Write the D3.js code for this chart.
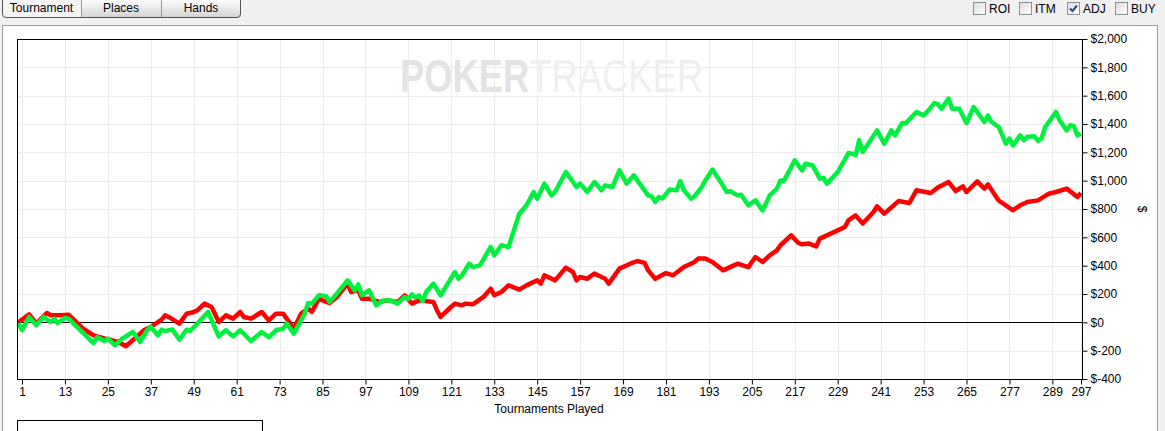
<!DOCTYPE html>
<html>
<head>
<meta charset="utf-8">
<script src="https://cdn.jsdelivr.net/npm/d3@7"></script>
<style>
  body { margin: 0; background: #f0f0f0; overflow: hidden; }
  text { font-family: "Liberation Sans", Arial, sans-serif; }
</style>
</head>
<body>
<script>
// tournaments played / profit ($)
var redTourney = [0,3,5,8,9,12,14,18,21,24,28,30,33,35,37,40,41,42,45,47,49,50,52,54,56,58,60,62,63,65,68,70,72,74,75,77,79,81,82,84,85,87,89,92,93,95,96,98,101,103,106,108,110,112,116,117,118,121,122,124,125,127,130,132,133,135,137,140,142,145,146,147,150,153,155,156,157,159,161,163,164,165,167,168,171,173,175,176,178,181,183,186,189,190,192,194,196,197,200,201,204,206,208,210,212,213,216,218,219,221,223,224,226,229,231,232,234,236,239,240,242,246,249,251,255,257,260,262,264,265,268,270,271,273,274,278,280,282,285,288,290,293,296,297];
var redProfit = [0,56,-7,66,50,50,54,-42,-92,-113,-139,-169,-104,-56,-33,19,49,38,-9,61,73,85,132,108,2,49,26,73,38,26,73,14,61,61,26,-45,61,97,73,167,155,136,179,273,214,226,167,167,143,155,143,191,132,155,143,85,38,110,132,120,132,127,179,238,191,214,261,231,261,296,273,332,296,386,355,296,320,308,344,320,308,273,344,379,414,433,420,367,308,348,332,390,426,450,450,426,386,367,402,414,390,461,426,473,508,544,614,560,551,556,536,591,614,649,673,720,755,697,779,819,767,856,842,932,913,951,990,927,960,920,995,944,974,896,860,791,826,849,861,908,920,944,885,913];

var greenTourney = [0,1,3,5,7,9,10,11,13,14,21,22,24,25,27,29,30,32,34,36,37,39,40,41,43,45,47,48,50,53,56,58,60,62,65,68,70,72,74,75,77,79,80,81,82,84,86,87,89,92,94,95,96,98,100,102,104,106,108,109,110,111,112,113,114,116,118,120,122,123,124,126,127,129,132,133,135,137,140,142,144,145,147,149,150,153,156,157,159,161,163,164,166,168,170,172,173,176,177,178,179,180,182,184,185,186,188,189,191,192,194,196,198,199,201,202,204,206,208,210,212,213,214,217,219,220,222,224,225,226,229,232,233,234,235,236,240,242,244,245,247,248,251,253,254,256,257,258,260,261,263,265,267,270,271,272,274,276,277,278,280,281,282,284,285,286,287,290,291,293,294,295,296,297];
var greenProfit = [-7,-56,38,-21,38,2,26,-5,31,26,-146,-104,-132,-115,-162,-115,-99,-68,-139,-56,-33,-92,-52,-62,-50,-122,-52,-61,-9,73,-99,-56,-99,-56,-132,-68,-104,-56,-45,-9,-80,14,61,136,132,191,184,143,203,296,226,268,191,226,120,155,155,132,179,165,198,175,190,150,214,273,191,273,355,308,332,414,390,402,532,473,544,532,767,826,920,873,979,896,920,1061,955,979,920,990,932,967,955,1073,979,1038,1002,896,889,849,884,875,937,932,997,932,873,890,955,1002,1078,1002,920,925,896,900,826,861,790,896,944,1002,1000,1144,1073,1120,1108,1014,1020,979,1061,1195,1190,1179,1285,1202,1355,1261,1355,1320,1407,1405,1485,1461,1485,1548,1540,1508,1579,1508,1508,1407,1520,1414,1460,1414,1379,1261,1297,1249,1320,1285,1310,1313,1280,1300,1379,1485,1426,1355,1391,1385,1320,1332];

var xTicks = d3.range(1, 290, 12).concat([297]);
var yTicks = d3.range(-400, 2001, 200);
var tabNames = ["Tournament", "Places", "Hands"];
var checkNames = ["ROI", "ITM", "ADJ", "BUY"];
var checkOn = [false, false, true, false];

var w = 1165, h = 431;
var plotL = 17, plotR = 1083, plotT = 39, plotB = 379;

var svg = d3.select("body").append("svg")
    .attr("width", w)
    .attr("height", h);

var defs = svg.append("defs");
var tabGrad = defs.append("linearGradient").attr("id", "tab-grad")
    .attr("x1", 0).attr("y1", 0).attr("x2", 0).attr("y2", 1);
tabGrad.append("stop").attr("offset", "0%").attr("stop-color", "#fdfdfd");
tabGrad.append("stop").attr("offset", "100%").attr("stop-color", "#d4d4d4");
var boxGrad = defs.append("linearGradient").attr("id", "box-grad")
    .attr("x1", 0).attr("y1", 0).attr("x2", 1).attr("y2", 1);
boxGrad.append("stop").attr("offset", "0%").attr("stop-color", "#dcdcdc");
boxGrad.append("stop").attr("offset", "100%").attr("stop-color", "#ffffff");

// white panel
svg.append("rect")
    .attr("x", 2.5).attr("y", 25.5)
    .attr("width", 1155).attr("height", 420)
    .attr("fill", "#fff")
    .attr("stroke", "#a0a0a0");

// tabs
var tabX = [2, 81, 161, 241];
var tabs = svg.append("g");
tabNames.forEach(function(name, i) {
    tabs.append("rect")
        .attr("x", tabX[i]).attr("y", 0)
        .attr("width", tabX[i + 1] - tabX[i]).attr("height", 17)
        .attr("fill", i == 0 ? "#f5f5f5" : "url(#tab-grad)");
    tabs.append("text")
        .attr("x", (tabX[i] + tabX[i + 1]) / 2)
        .attr("y", 12)
        .attr("text-anchor", "middle")
        .attr("font-size", 12)
        .attr("fill", "#000")
        .text(name);
});
tabs.append("path")
    .attr("d", "M2.5,0 V14 Q2.5,17.5 6,17.5 H237 Q240.5,17.5 240.5,14 V0")
    .attr("fill", "none").attr("stroke", "#555");
[81, 161].forEach(function(x) {
    tabs.append("line")
        .attr("x1", x + 0.5).attr("x2", x + 0.5)
        .attr("y1", 0).attr("y2", 17)
        .attr("stroke", "#9a9a9a");
});

// checkboxes
var checkX = [973, 1019, 1067, 1115];
checkNames.forEach(function(name, i) {
    var g = svg.append("g").attr("transform", "translate(" + checkX[i] + ",2)");
    g.append("rect")
        .attr("x", 0.5).attr("y", 0.5).attr("width", 12).attr("height", 12)
        .attr("fill", "url(#box-grad)").attr("stroke", "#8e8f8f");
    if (checkOn[i]) {
        g.append("path")
            .attr("d", "M3,6.5 L5.5,9 L10,3.5")
            .attr("fill", "none").attr("stroke", "#2a3e9c").attr("stroke-width", 2);
    }
    g.append("text")
        .attr("x", 16).attr("y", 11)
        .attr("font-size", 12)
        .text(name);
});

var x = d3.scaleLinear().domain([1, 297]).range([22, 1081]);
var y = d3.scaleLinear().domain([-400, 2000]).range([plotB, plotT]);

// grid
var grid = svg.append("g");
grid.selectAll(".gx").data(xTicks).enter().append("line")
    .attr("x1", function(d) { return Math.round(x(d)) + 0.5; })
    .attr("x2", function(d) { return Math.round(x(d)) + 0.5; })
    .attr("y1", plotT).attr("y2", plotB)
    .attr("stroke", "#ebebeb");
grid.selectAll(".gy").data(yTicks).enter().append("line")
    .attr("x1", plotL).attr("x2", plotR)
    .attr("y1", function(d) { return Math.round(y(d)) + 0.5; })
    .attr("y2", function(d) { return Math.round(y(d)) + 0.5; })
    .attr("stroke", "#ebebeb");

// watermark
var mark = svg.append("text")
    .attr("x", 400).attr("y", 92)
    .attr("font-size", 47)
    .attr("textLength", 303).attr("lengthAdjust", "spacingAndGlyphs");
mark.append("tspan").attr("font-weight", "bold").attr("fill", "#e3e3e3").text("POKER");
mark.append("tspan").attr("fill", "#efefef").text("TRACKER");

// zero line
svg.append("line")
    .attr("x1", plotL).attr("x2", plotR)
    .attr("y1", Math.round(y(0)) + 0.5).attr("y2", Math.round(y(0)) + 0.5)
    .attr("stroke", "#000");

// series
var line = d3.line()
    .x(function(d) { return x(d[0]); })
    .y(function(d) { return y(d[1]); });

svg.append("path")
    .datum(d3.zip(redTourney, redProfit))
    .attr("d", line)
    .attr("fill", "none")
    .attr("stroke", "#ff0000")
    .attr("stroke-width", 4.5)
    .attr("stroke-linejoin", "round");

svg.append("path")
    .datum(d3.zip(greenTourney, greenProfit))
    .attr("d", line)
    .attr("fill", "none")
    .attr("stroke", "#00f040")
    .attr("stroke-width", 4.5)
    .attr("stroke-linejoin", "round");

// frame
svg.append("rect")
    .attr("x", plotL + 0.5).attr("y", plotT + 0.5)
    .attr("width", plotR - plotL - 1).attr("height", plotB - plotT)
    .attr("fill", "none").attr("stroke", "#000");

// axes
var xAxis = d3.axisBottom(x).tickValues(xTicks).tickSize(5).tickPadding(3);
var yAxis = d3.axisRight(y).tickValues(yTicks).tickSize(5).tickPadding(3)
    .tickFormat(function(d) {
        return d < 0 ? "$-" + d3.format(",")(-d) : "$" + d3.format(",")(d);
    });

var gx = svg.append("g")
    .attr("transform", "translate(0," + (plotB + 0.5) + ")")
    .call(xAxis);
var gy = svg.append("g")
    .attr("transform", "translate(" + (plotR - 0.5) + ",0)")
    .call(yAxis);
[gx, gy].forEach(function(g) {
    g.select(".domain").remove();
    g.selectAll("line").attr("stroke", "#000");
    g.selectAll("text")
        .attr("font-family", "Liberation Sans, Arial, sans-serif")
        .attr("font-size", 12)
        .attr("fill", "#000");
});

svg.append("text")
    .attr("x", 549).attr("y", 413)
    .attr("text-anchor", "middle")
    .attr("font-size", 12)
    .text("Tournaments Played");

svg.append("text")
    .attr("transform", "translate(1138," + ((plotT + plotB) / 2) + ") rotate(90)")
    .attr("text-anchor", "middle")
    .attr("font-size", 12)
    .text("$");

// box below the chart
svg.append("rect")
    .attr("x", 17.5).attr("y", 420.5)
    .attr("width", 245).attr("height", 30)
    .attr("fill", "#fff").attr("stroke", "#000");
</script>
</body>
</html>
